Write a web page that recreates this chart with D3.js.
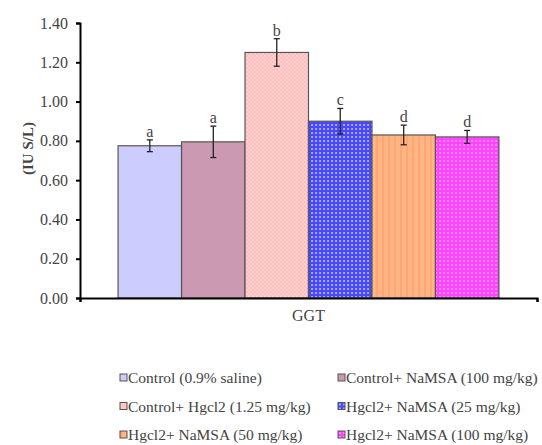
<!DOCTYPE html>
<html>
<head>
<meta charset="utf-8">
<script src="https://cdn.jsdelivr.net/npm/d3@7"></script>
<style>
  body { margin: 0; background: #fff; }
  text { font-family: "Liberation Serif", "Times New Roman", serif; }
</style>
</head>
<body>
<div id="chart"></div>
<script>
const CATEGORY = ["GGT"]
const GROUPS = ["Control (0.9% saline)", "Control+ NaMSA (100 mg/kg)", "Control+ Hgcl2 (1.25 mg/kg)",
                "Hgcl2+ NaMSA (25 mg/kg)", "Hgcl2+ NaMSA (50 mg/kg)", "Hgcl2+ NaMSA (100 mg/kg)"]
const VALUES = [0.775, 0.795, 1.25, 0.90, 0.83, 0.82]
const ERRORS = [0.03, 0.08, 0.07, 0.065, 0.05, 0.033]
const LETTERS = ["a", "a", "b", "c", "d", "d"]
const Y_TICKS = [0, 0.2, 0.4, 0.6, 0.8, 1.0, 1.2, 1.4]

const FILLS = ["#CCCCFF", "#CC99B3", "url(#p-pink)", "url(#p-blue)", "url(#p-orange)", "url(#p-magenta)"]

const MARGIN = { TOP: 23, LEFT: 80, RIGHT: 5, BOTTOM: 147 }
const WIDTH = 542, HEIGHT = 445
const W = WIDTH - MARGIN.LEFT - MARGIN.RIGHT
const H = HEIGHT - MARGIN.TOP - MARGIN.BOTTOM

const svg = d3.select("#chart").append("svg")
    .attr("width", WIDTH)
    .attr("height", HEIGHT)
    .attr("font-family", "Liberation Serif")

// patterns for the hatched bars
const defs = svg.append("defs")

let p = defs.append("pattern").attr("id", "p-pink").attr("patternUnits", "userSpaceOnUse")
    .attr("width", 4).attr("height", 4)
p.append("rect").attr("width", 4).attr("height", 4).attr("fill", "#FFD0D0")
p.append("rect").attr("width", 2).attr("height", 2).attr("fill", "#FFBDBD")
p.append("rect").attr("x", 2).attr("y", 2).attr("width", 2).attr("height", 2).attr("fill", "#FFBDBD")

p = defs.append("pattern").attr("id", "p-blue").attr("patternUnits", "userSpaceOnUse")
    .attr("width", 4).attr("height", 4)
p.append("rect").attr("width", 4).attr("height", 4).attr("fill", "#4848F8")
p.append("rect").attr("x", 1).attr("y", 1).attr("width", 2).attr("height", 2).attr("fill", "#A8A8FF")

p = defs.append("pattern").attr("id", "p-orange").attr("patternUnits", "userSpaceOnUse")
    .attr("width", 6).attr("height", 6)
p.append("rect").attr("width", 6).attr("height", 6).attr("fill", "#FFB584")
p.append("rect").attr("width", 2).attr("height", 6).attr("fill", "#FFA672")

p = defs.append("pattern").attr("id", "p-magenta").attr("patternUnits", "userSpaceOnUse")
    .attr("width", 4).attr("height", 4)
p.append("rect").attr("width", 4).attr("height", 4).attr("fill", "#FF44FF")
p.append("rect").attr("x", 1).attr("y", 1).attr("width", 2).attr("height", 2).attr("fill", "#FF88FF")

const g = svg.append("g")
    .attr("transform", `translate(${MARGIN.LEFT}, ${MARGIN.TOP})`)

const x0 = d3.scaleBand().domain(CATEGORY).range([0, W]).paddingOuter(0.1)
const x1 = d3.scaleBand().domain(GROUPS).range([0, x0.bandwidth()]).padding(0)
const y = d3.scaleLinear().domain([0, 1.4]).range([H, 0])

// bars
const cat = g.append("g").attr("transform", `translate(${x0("GGT")}, 0)`)

cat.selectAll(".bar")
    .data(GROUPS)
    .enter()
    .append("rect")
    .attr("class", "bar")
    .attr("x", (d) => x1(d))
    .attr("y", (d, i) => y(VALUES[i]))
    .attr("width", x1.bandwidth())
    .attr("height", (d, i) => H - y(VALUES[i]))
    .attr("fill", (d, i) => FILLS[i])
    .attr("stroke", "#555")
    .attr("stroke-width", 1.2)

// error bars
const err = cat.selectAll(".err")
    .data(GROUPS)
    .enter()
    .append("g")
    .attr("class", "err")
    .attr("transform", (d) => `translate(${x1(d) + x1.bandwidth() / 2}, 0)`)

err.append("line")
    .attr("y1", (d, i) => y(VALUES[i] + ERRORS[i]))
    .attr("y2", (d, i) => y(VALUES[i] - ERRORS[i]))
    .attr("stroke", "#222").attr("stroke-width", 1.3)
err.append("line")
    .attr("x1", -3).attr("x2", 3)
    .attr("y1", (d, i) => y(VALUES[i] + ERRORS[i]))
    .attr("y2", (d, i) => y(VALUES[i] + ERRORS[i]))
    .attr("stroke", "#222").attr("stroke-width", 1.3)
err.append("line")
    .attr("x1", -3).attr("x2", 3)
    .attr("y1", (d, i) => y(VALUES[i] - ERRORS[i]))
    .attr("y2", (d, i) => y(VALUES[i] - ERRORS[i]))
    .attr("stroke", "#222").attr("stroke-width", 1.3)

err.append("text")
    .attr("y", (d, i) => y(VALUES[i] + ERRORS[i]) - 3)
    .attr("text-anchor", "middle")
    .attr("font-size", 16)
    .attr("fill", "#444")
    .text((d, i) => LETTERS[i])

// y axis
const yAxis = g.append("g")
    .call(d3.axisLeft(y).tickValues(Y_TICKS).tickFormat(d3.format(".2f")).tickSize(4).tickPadding(8))
    .attr("font-family", "Liberation Serif")
yAxis.select(".domain").attr("stroke", "#000").attr("stroke-width", 2)
yAxis.selectAll(".tick line").attr("stroke", "#000").attr("stroke-width", 2)
yAxis.selectAll(".tick text")
    .attr("font-size", 16)
    .attr("fill", "#444")

// x axis
const xAxis = g.append("g")
    .attr("transform", `translate(0, ${H})`)
    .call(d3.axisBottom(d3.scaleLinear().range([0, W])).tickValues([0, 1]).tickFormat("").tickSize(4))
xAxis.select(".domain").attr("stroke", "#000").attr("stroke-width", 2)
xAxis.selectAll(".tick line").attr("stroke", "#000").attr("stroke-width", 2)

g.append("text")
    .attr("x", x0("GGT") + x0.bandwidth() / 2)
    .attr("y", H + 23)
    .attr("text-anchor", "middle")
    .attr("font-size", 16)
    .attr("fill", "#444")
    .text(CATEGORY[0])

g.append("text")
    .attr("transform", `translate(${-47}, ${H / 2 - 12}) rotate(-90)`)
    .attr("text-anchor", "middle")
    .attr("font-size", 15)
    .attr("font-weight", "bold")
    .attr("fill", "#444")
    .text("(IU S/L)")

// legend
const legend = svg.append("g").attr("transform", "translate(120, 378)")
const leg = legend.selectAll(".leg")
    .data(GROUPS)
    .enter()
    .append("g")
    .attr("class", "leg")
    .attr("transform", (d, i) => `translate(${(i % 2) * 218}, ${Math.floor(i / 2) * 28.5})`)

leg.append("rect")
    .attr("x", 0).attr("y", -4)
    .attr("width", 7).attr("height", 7)
    .attr("fill", (d, i) => FILLS[i])
    .attr("stroke", "#555")
    .attr("stroke-width", 1)

leg.append("text")
    .attr("x", 8)
    .attr("y", 5)
    .attr("font-size", 15.5)
    .attr("fill", "#444")
    .text((d) => d)
</script>
</body>
</html>
